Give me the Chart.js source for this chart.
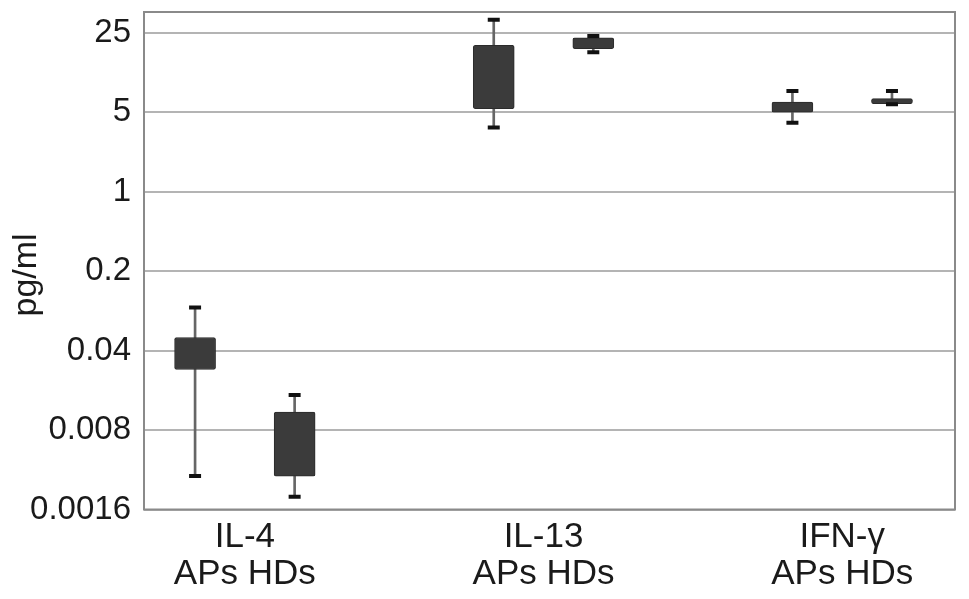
<!DOCTYPE html>
<html>
<head>
<meta charset="utf-8">
<script src="https://cdn.jsdelivr.net/npm/chart.js@4/dist/chart.umd.min.js"></script>
<style>
html,body{margin:0;padding:0;background:#fff;}
#wrap{width:969px;height:599px;position:relative;}
</style>
</head>
<body>
<div id="wrap"><canvas id="c" width="969" height="599"></canvas></div>
<script>
// ---- data ----
const groupLabels = [['IL-4', 'APs HDs'], ['IL-13', 'APs HDs'], ['IFN-\u03b3', 'APs HDs']];
const groupCenters = [1.5, 4.5, 7.5];
const boxPositions = [1, 2, 4, 5, 7, 8]; // IL-4 APs, IL-4 HDs, IL-13 APs, IL-13 HDs, IFN-γ APs, IFN-γ HDs
const whiskerMin = [0.00315, 0.00207, 3.67, 16.9, 4.06, 5.89];
const boxQ1      = [0.0273, 0.00315, 5.40, 18.2, 5.03, 5.96];
const boxQ3      = [0.0522, 0.0115, 19.4, 22.6, 6.16, 6.6];
const whiskerMax = [0.0959, 0.0163, 32.6, 23.5, 7.7, 7.7];
const yTickValues = [0.0016, 0.008, 0.04, 0.2, 1, 5, 25];
const yTickLabels = ['0.0016', '0.008', '0.04', '0.2', '1', '5', '25'];

const FONT = "'Liberation Sans', Arial, Helvetica, sans-serif";

const whiskerData = boxPositions.map((x, i) => ({x: x, y: [whiskerMin[i], whiskerMax[i]]}));
const boxData = boxPositions.map((x, i) => ({x: x, y: [boxQ1[i], boxQ3[i]]}));
const capData = [];
boxPositions.forEach((x, i) => { capData.push({x: x, y: whiskerMin[i]}); capData.push({x: x, y: whiskerMax[i]}); });

const frame = {
  id: 'frame',
  afterDraw(chart) {
    const a = chart.chartArea, ctx = chart.ctx;
    ctx.save();
    ctx.strokeStyle = '#8a8a8a';
    ctx.lineWidth = 2;
    ctx.strokeRect(a.left, a.top, a.right - a.left, a.bottom - a.top);
    ctx.restore();
  }
};

new Chart(document.getElementById('c'), {
  type: 'bar',
  data: {
    datasets: [
      {
        type: 'scatter',
        label: 'caps',
        data: capData,
        pointStyle: 'line',
        radius: 6,
        borderWidth: 4,
        borderColor: '#111',
        backgroundColor: '#111',
        order: 0
      },
      {
        label: 'boxes',
        data: boxData,
        barThickness: 41,
        grouped: false,
        backgroundColor: '#3b3b3b',
        borderColor: '#2b2b2b',
        borderWidth: 1,
        borderSkipped: false,
        borderRadius: 2,
        order: 1
      },
      {
        label: 'whiskers',
        data: whiskerData,
        barThickness: 2,
        grouped: false,
        backgroundColor: '#666',
        borderWidth: 0,
        order: 2
      }
    ]
  },
  options: {
    responsive: false,
    animation: false,
    layout: {padding: {left: 0, right: 14, top: 12, bottom: 0}},
    plugins: {legend: {display: false}, tooltip: {enabled: false}},
    scales: {
      x: {
        type: 'linear',
        offset: false,
        min: 0.487,
        max: 8.633,
        grid: {display: false, drawTicks: false},
        border: {display: false},
        afterBuildTicks(scale) { scale.ticks = groupCenters.map(v => ({value: v})); },
        afterFit(scale) { scale.height = 89.5; scale.paddingLeft = 0; scale.paddingRight = 0; },
        ticks: {
          autoSkip: false,
          maxRotation: 0,
          padding: 9,
          color: '#1a1a1a',
          font: {family: FONT, size: 35, lineHeight: 1.06},
          callback(value) {
            const i = groupCenters.indexOf(value);
            return i >= 0 ? groupLabels[i] : '';
          }
        }
      },
      y: {
        type: 'logarithmic',
        min: 0.0016,
        max: 38.2,
        grid: {color: '#b4b4b4', lineWidth: 2, drawTicks: false},
        border: {display: false},
        afterBuildTicks(scale) { scale.ticks = yTickValues.map(v => ({value: v})); },
        afterFit(scale) { scale.width = 144; scale.paddingTop = 0; scale.paddingBottom = 0; },
        title: {
          display: true,
          text: 'pg/ml   ',
          color: '#1a1a1a',
          font: {family: FONT, size: 34},
          padding: {top: 6, bottom: 0}
        },
        ticks: {
          autoSkip: false,
          padding: 13,
          color: '#1a1a1a',
          font: {family: FONT, size: 33},
          callback(value) {
            const i = yTickValues.indexOf(value);
            return i >= 0 ? yTickLabels[i] : '';
          }
        }
      }
    }
  },
  plugins: [frame]
});
</script>
</body>
</html>
